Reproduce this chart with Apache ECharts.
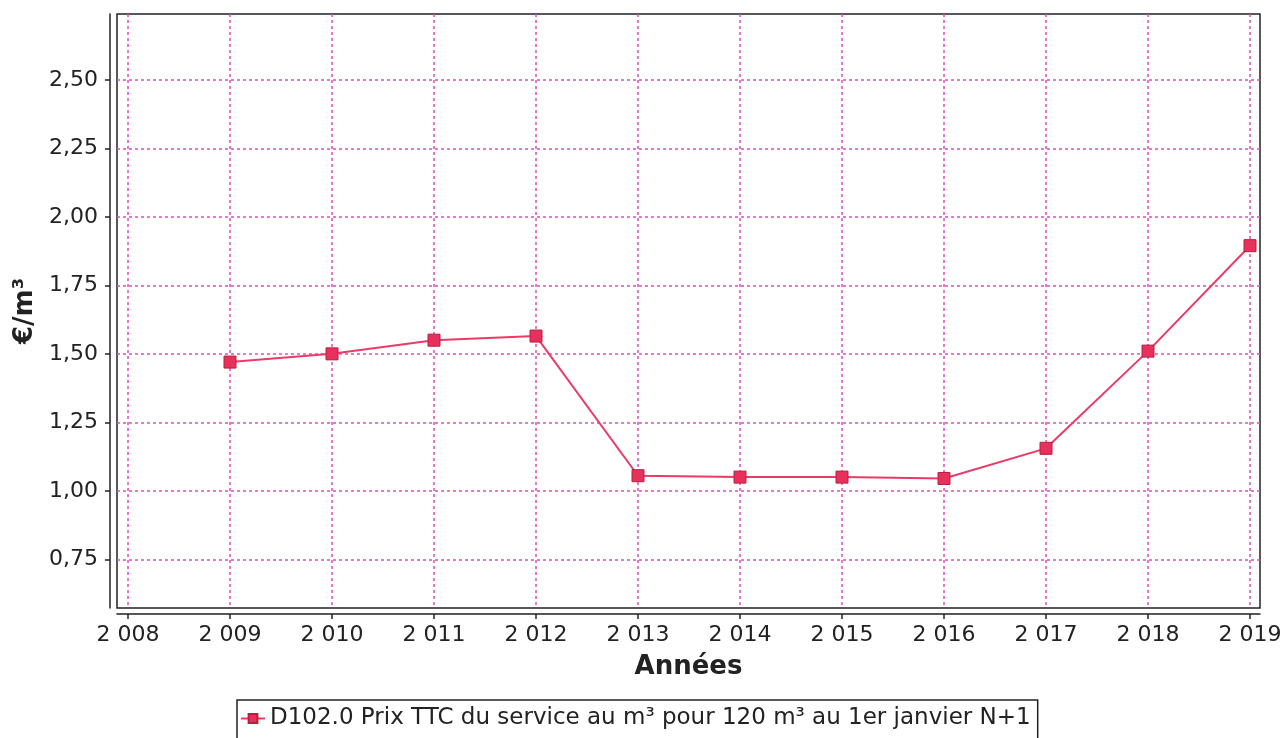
<!DOCTYPE html>
<html>
<head>
<meta charset="utf-8">
<script src="https://cdn.jsdelivr.net/npm/echarts@6/dist/echarts.min.js"></script>
<style>
  html, body { margin: 0; padding: 0; background: #fff; }
  #main { width: 1282px; height: 738px; }
</style>
</head>
<body>
<div id="main"></div>
<script>
var years = [2009, 2010, 2011, 2012, 2013, 2014, 2015, 2016, 2017, 2018, 2019];
var prix = [1.47, 1.50, 1.55, 1.565, 1.055, 1.05, 1.05, 1.045, 1.155, 1.51, 1.895];
var seriesName = 'D102.0 Prix TTC du service au m³ pour 120 m³ au 1er janvier N+1';

window.onload = function() {
    var chartBox = document.getElementById('main'),
        myChart = echarts.init(chartBox),
        option;

    var font = 'DejaVu Sans';
    var gridColor = '#dc4cc4';
    var red = '#e8305c';

    var points = years.map(function(y, i) { return [y, prix[i]]; });

    option = {
        animation: false,
        textStyle: { fontFamily: font },
        grid: [
            // frame of the plot
            { left: 117, top: 14, width: 1143, height: 594, show: true, borderColor: '#222', borderWidth: 1.5, outerBoundsMode: 'none', containLabel: false },
            // horizontal grid lines + y labels
            { left: 117, top: 80, width: 1143, height: 479.3, outerBoundsMode: 'none', containLabel: false },
            // vertical grid lines + x labels + data
            { left: 128, top: 14, width: 1122, height: 594, outerBoundsMode: 'none', containLabel: false }
        ],
        xAxis: [{
            gridIndex: 0, type: 'value', min: 0, max: 1, offset: 6,
            axisLine: { show: true, onZero: false, lineStyle: { color: '#222', width: 1.5 } },
            axisTick: { show: false }, axisLabel: { show: false }, splitLine: { show: false },
            name: 'Années', nameLocation: 'middle', nameGap: 40,
            nameTextStyle: { fontFamily: font, fontSize: 26, fontWeight: 'bold', color: '#222' }
        }, {
            gridIndex: 1, type: 'value', show: false
        }, {
            gridIndex: 2, type: 'value', min: 2008, max: 2019, interval: 1, offset: 6,
            axisLine: { show: false, onZero: false },
            axisTick: { length: 5, lineStyle: { color: '#222', width: 1.5 } },
            axisLabel: {
                fontFamily: font, fontSize: 22, color: '#222', margin: 10,
                formatter: function(v) { var s = String(v); return s.charAt(0) + ' ' + s.slice(1); }
            },
            splitLine: { lineStyle: { color: gridColor, type: [3, 3], width: 1.5 } }
        }],
        yAxis: [{
            gridIndex: 0, type: 'value', min: 0, max: 1, offset: 7,
            axisLine: { show: true, onZero: false, lineStyle: { color: '#222', width: 1.5 } },
            axisTick: { show: false }, axisLabel: { show: false }, splitLine: { show: false },
            name: '€/m³', nameLocation: 'middle', nameGap: 72, nameRotate: 90,
            nameTextStyle: { fontFamily: font, fontSize: 26, fontWeight: 'bold', color: '#222' }
        }, {
            gridIndex: 1, type: 'value', min: 0.75, max: 2.5, interval: 0.25, offset: 7,
            axisLine: { show: false, onZero: false },
            axisTick: { show: true, length: 5, lineStyle: { color: '#222', width: 1.5 } },
            axisLabel: {
                fontFamily: font, fontSize: 22, color: '#222', margin: 12,
                formatter: function(v) { return v.toFixed(2).replace('.', ','); }
            },
            splitLine: { lineStyle: { color: gridColor, type: [3, 3], width: 1.5 } }
        }, {
            gridIndex: 2, type: 'value', min: 0.572, max: 2.741, show: false
        }],
        legend: {
            left: 237, top: 700,
            data: [seriesName],
            borderColor: '#222', borderWidth: 1.5,
            padding: [7, 7, 12, 3],
            itemWidth: 24, itemHeight: 11, itemGap: 6,
            textStyle: { fontFamily: font, fontSize: 23, color: '#222' }
        },
        series: [{
            name: seriesName,
            type: 'line',
            xAxisIndex: 2, yAxisIndex: 2,
            data: points,
            symbol: 'rect', symbolSize: 12,
            itemStyle: { color: red, borderColor: '#b8203f', borderWidth: 1 },
            lineStyle: { color: '#ec3a66', width: 2 }
        }]
    };

    myChart.setOption(option);
};
</script>
</body>
</html>
